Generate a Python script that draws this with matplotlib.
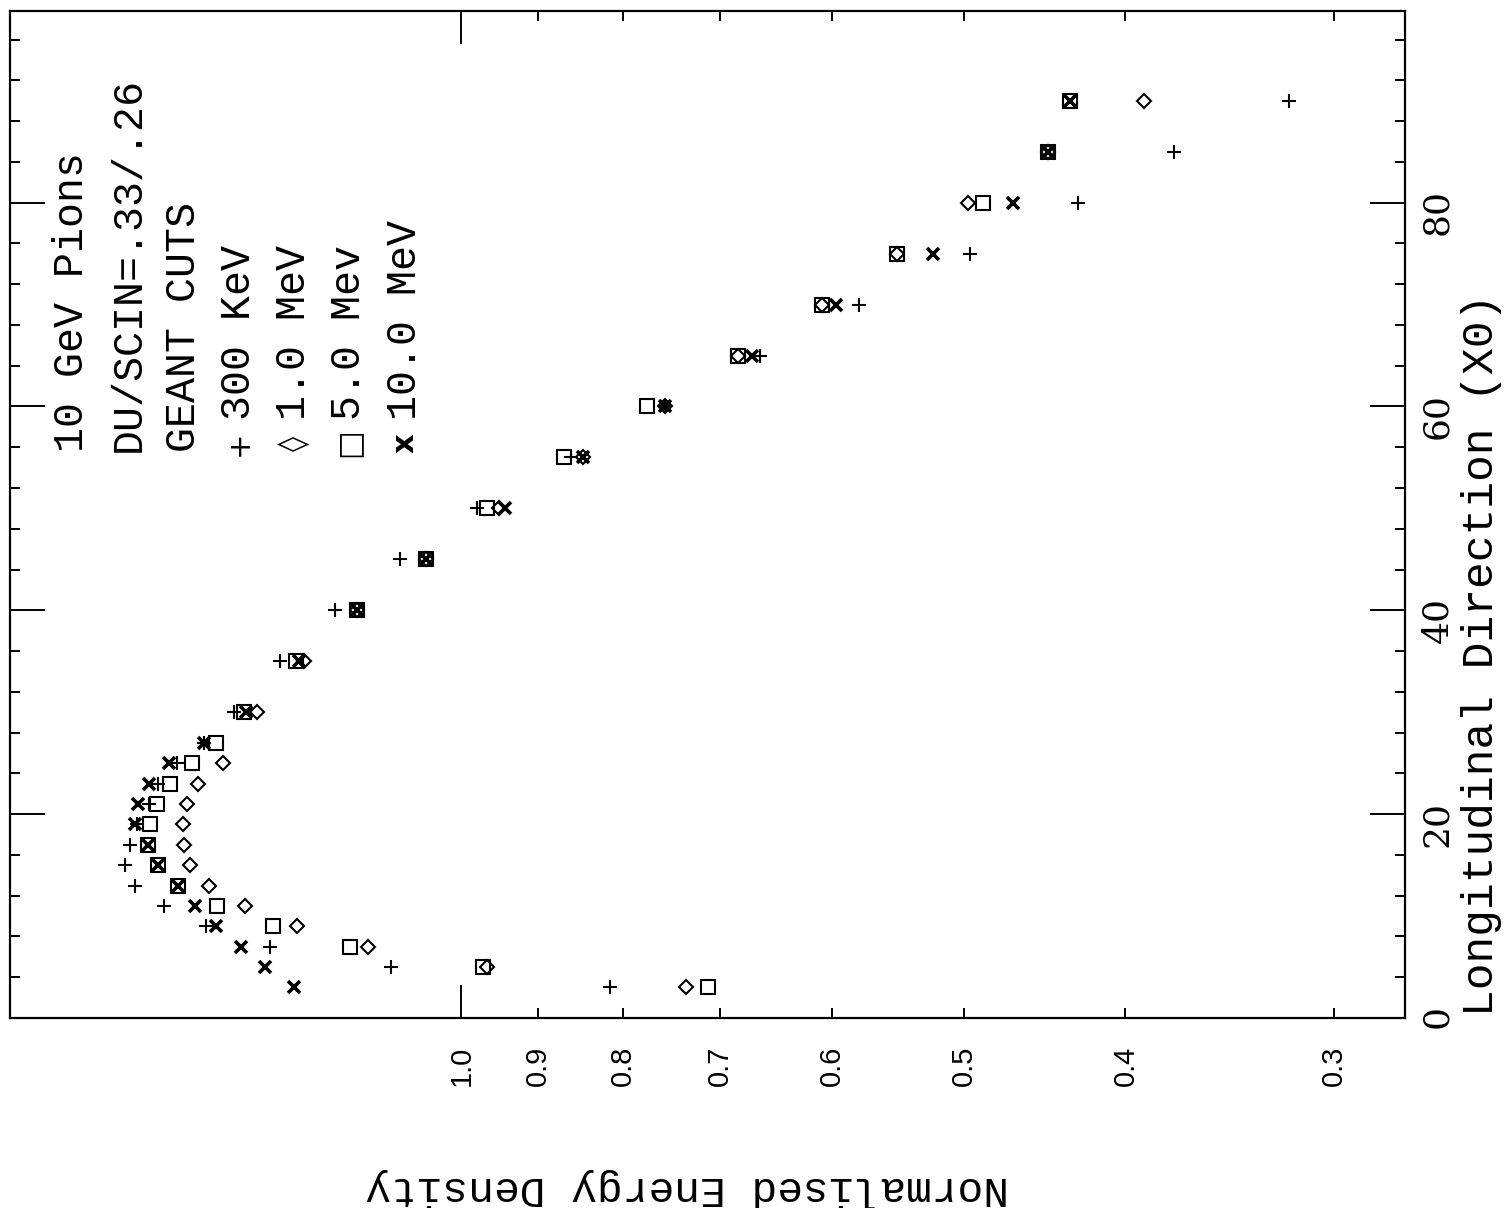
import matplotlib
matplotlib.use("Agg")
import matplotlib.pyplot as plt
from matplotlib.ticker import FixedLocator, FuncFormatter, NullFormatter

# Longitudinal depth of each sample (radiation lengths X0)
depth = [3, 5, 7, 9, 11, 13, 15, 17, 19, 21, 23, 25, 27,
         30, 35, 40, 45, 50, 55, 60, 65, 70, 75, 80, 85, 90]

# Normalised energy density for each GEANT cut
e_300kev = [0.815, 1.102, 1.302, 1.422, 1.507, 1.569, 1.590, 1.579, 1.564,
            1.539, 1.520, 1.481, 1.427, 1.368, 1.285, 1.191, 1.088, 0.978,
            0.860, 0.755, 0.662, 0.578, 0.496, 0.427, 0.374, 0.319]
e_1mev = [0.733, 0.965, 1.138, 1.254, 1.348, 1.416, 1.454, 1.467, 1.469,
          1.461, 1.439, 1.390, float("nan"), 1.326, 1.242, 1.155, 1.050,
          0.949, 0.845, 0.755, 0.683, 0.608, 0.548, 0.497, 0.445, 0.390]
e_5mev = [0.712, 0.971, 1.166, 1.297, 1.401, 1.478, 1.519, 1.540, 1.536,
          1.522, 1.495, 1.450, 1.402, 1.350, 1.256, 1.155, 1.050, 0.965,
          0.868, 0.774, 0.683, 0.608, 0.548, 0.487, 0.445, 0.432]
e_10mev = [1.260, 1.312, 1.356, 1.403, 1.444, 1.478, 1.519, 1.540, 1.568,
           1.563, 1.539, 1.497, 1.427, 1.346, 1.251, 1.155, 1.050, 0.941,
           0.845, 0.755, 0.670, 0.596, 0.522, 0.467, 0.445, 0.432]

density_major = [1.0]
density_minor = [0.9, 0.8, 0.7, 0.6, 0.5, 0.4, 0.3]
depth_major = [0, 20, 40, 60, 80]
depth_minor = [4, 8, 12, 16, 24, 28, 32, 36, 44, 48, 52, 56,
               64, 68, 72, 76, 84, 88, 92, 96]

header_lines = ["10 GeV Pions", "DU/SCIN=.33/.26", "GEANT CUTS"]
cut_symbols = ["+", "\u25CA", "\u25A1", "x"]
cut_labels = ["300 KeV", "1.0 MeV", "5.0 Mev", "10.0 MeV"]

W, H = 1511, 1208
MONO = ["Liberation Mono", "DejaVu Sans Mono"]


def fpos(x, y):
    """Pixel position (from top-left) to figure fraction."""
    return x / W, 1 - y / H


fig = plt.figure(figsize=(W / 100, H / 100), dpi=100)
fig.patch.set_facecolor("white")
ax = fig.add_axes([10 / W, 190 / H, 1395 / W, 1007 / H])

# The page is laid out sideways: density runs horizontally (log, decreasing
# to the right) and depth runs vertically.
ax.set_xscale("log")
ax.set_xlim(1.864, 0.272)
ax.set_ylim(0, 98.8)

ax.plot(e_300kev, depth, ls="none", marker="+", ms=10.5, mew=1.5, color="k")
ax.plot(e_1mev, depth, ls="none", marker="D", ms=7.5, mew=1.5,
        mfc="none", color="k")
ax.plot(e_5mev, depth, ls="none", marker="s", ms=9.5, mew=1.5,
        mfc="none", color="k")
ax.plot(e_10mev, depth, ls="none", marker="x", ms=9, mew=2.6, color="k")

fmt = FuncFormatter(lambda v, pos: f"{v:.1f}")
ax.xaxis.set_major_locator(FixedLocator(density_major))
ax.xaxis.set_minor_locator(FixedLocator(density_minor))
ax.xaxis.set_major_formatter(fmt)
ax.xaxis.set_minor_formatter(fmt)
ax.tick_params(axis="x", which="both", direction="in", top=True, bottom=True,
               width=1.4, labelsize=21, pad=20, labelrotation=90,
               labelfontfamily="Liberation Sans")
ax.tick_params(axis="x", which="major", length=24)
ax.tick_params(axis="x", which="minor", length=7)

ax.yaxis.set_major_locator(FixedLocator(depth_major))
ax.yaxis.set_minor_locator(FixedLocator(depth_minor))
ax.yaxis.set_minor_formatter(NullFormatter())
ax.tick_params(axis="y", which="both", direction="in", left=True, right=True,
               labelleft=False, labelright=True, width=1.4, labelsize=26,
               pad=11, labelrotation=90, labelfontfamily="DejaVu Serif")
ax.tick_params(axis="y", which="major", length=25)
ax.tick_params(axis="y", which="minor", length=7)

for sp in ax.spines.values():
    sp.set_linewidth(1.6)

# Annotation block, written sideways
for x, line in zip([72, 129, 184], header_lines):
    fig.text(*fpos(x, 452), line, rotation=90, rotation_mode="anchor",
             ha="left", va="center", fontsize=30, family=MONO)

for x, sym, lab in zip([239, 294, 349, 405], cut_symbols, cut_labels):
    fig.text(*fpos(x, 443), sym, rotation=90, rotation_mode="anchor",
             ha="center", va="center", fontsize=22,
             family=["DejaVu Sans"],
             fontweight="bold" if sym == "x" else "normal")
    fig.text(*fpos(x, 420), lab, rotation=90, rotation_mode="anchor",
             ha="left", va="center", fontsize=30, family=MONO)

# Axis titles
fig.text(*fpos(1482, 655), "Longitudinal Direction (X0)", rotation=90,
         ha="center", va="center", fontsize=32, family=MONO)
fig.text(*fpos(687, 1188), "Normalised Energy Density", rotation=180,
         ha="center", va="center", fontsize=31, family=MONO)

fig.savefig("out.png", dpi=100, facecolor="white")
